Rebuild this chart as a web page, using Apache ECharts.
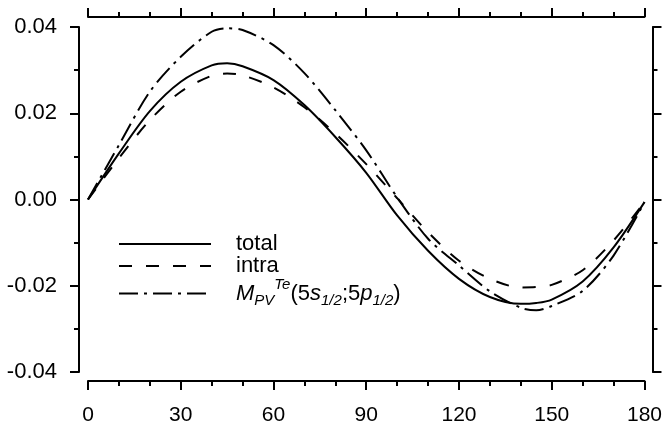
<!DOCTYPE html>
<html>
<head>
<meta charset="utf-8">
<script src="https://cdn.jsdelivr.net/npm/echarts@6/dist/echarts.min.js"></script>
<style>
  html, body { margin: 0; padding: 0; background: #fff; }
  #chart { width: 665px; height: 426px; }
</style>
</head>
<body>
<div id="chart"></div>
<script>
// angle (deg)
const angles = [0, 10, 20, 30, 40, 45, 50, 60, 70, 80, 90, 100, 110, 120, 130, 140, 145, 150, 160, 170, 180];
// curves
const totalVals = [0, 0.0107, 0.0205, 0.0273, 0.0311, 0.0316, 0.0309, 0.0277, 0.0219, 0.0145, 0.0062, -0.0037, -0.0119, -0.0184, -0.0226, -0.0242, -0.0240, -0.0232, -0.0190, -0.0111, -0.0006];
const intraVals = [0, 0.0096, 0.0184, 0.0250, 0.0287, 0.0292, 0.0288, 0.0260, 0.0214, 0.0153, 0.0082, 0.0003, -0.0076, -0.0142, -0.0184, -0.0204, -0.0203, -0.0198, -0.0164, -0.0095, -0.0006];
const mpvVals = [0, 0.0126, 0.0250, 0.0331, 0.0389, 0.0397, 0.0393, 0.0358, 0.0293, 0.0207, 0.0114, 0.0005, -0.0091, -0.0153, -0.0213, -0.0251, -0.0257, -0.0247, -0.0212, -0.0130, -0.0006];
const seriesNames = ['total', 'intra', 'mpv'];

const chart = echarts.init(document.getElementById('chart'));
const font = 'Liberation Sans, Arial, Helvetica, sans-serif';
const pairs = vals => angles.map((a, i) => [a, vals[i]]);

const axisBase = {
  type: 'value',
  axisLine: { show: true, onZero: false, lineStyle: { color: '#000', width: 2 } },
  axisTick: { show: true, inside: false, length: 9, lineStyle: { color: '#000', width: 2 } },
  minorTick: { show: true, length: 5, lineStyle: { color: '#000', width: 2 } },
  splitLine: { show: false },
  minorSplitLine: { show: false }
};

// text styles for the legend; sub/superscripts moved with padding inside a 22px line
const richStyles = {
  n: { fontSize: 22, fontFamily: font, color: '#000', lineHeight: 22 },
  it: { fontSize: 22, fontFamily: font, fontStyle: 'italic', color: '#000', lineHeight: 22 },
  sub: { fontSize: 15, fontFamily: font, fontStyle: 'italic', color: '#000', lineHeight: 8, padding: [14, 0, 0, 0] },
  sup: { fontSize: 15, fontFamily: font, fontStyle: 'italic', color: '#000', lineHeight: 4, padding: [0, 0, 18, 0] }
};

chart.setOption({
  animation: false,
  backgroundColor: '#fff',
  grid: { left: 88, right: 19, top: 27, bottom: 54, containLabel: false },
  xAxis: [
    Object.assign({}, axisBase, {
      position: 'bottom', offset: 9, min: 0, max: 180, interval: 30,
      minorTick: Object.assign({}, axisBase.minorTick, { splitNumber: 3 }),
      axisLabel: { color: '#000', fontSize: 21, fontFamily: font, margin: 24 }
    }),
    Object.assign({}, axisBase, {
      position: 'top', offset: 10, min: 0, max: 180, interval: 30,
      minorTick: Object.assign({}, axisBase.minorTick, { splitNumber: 3 }),
      axisLabel: { show: false }
    })
  ],
  yAxis: [
    Object.assign({}, axisBase, {
      position: 'left', offset: 9, min: -0.04, max: 0.04, interval: 0.02,
      minorTick: Object.assign({}, axisBase.minorTick, { splitNumber: 2 }),
      axisLabel: { color: '#000', fontSize: 22, fontFamily: font, margin: 22,
        formatter: v => v.toFixed(2) }
    }),
    Object.assign({}, axisBase, {
      position: 'right', offset: 8, min: -0.04, max: 0.04, interval: 0.02,
      minorTick: Object.assign({}, axisBase.minorTick, { splitNumber: 2 }),
      axisLabel: { show: false }
    })
  ],
  legend: {
    orient: 'vertical', left: 113, top: 228,
    itemWidth: 92, itemHeight: 14, itemGap: 0,
    itemStyle: { opacity: 0 },
    data: seriesNames,
    formatter: name => {
      if (name === 'mpv') {
        return '{it|M}{sub|PV}{sup|Te}{n|(5}{it|s}{sub|1/2}{n|;5}{it|p}{sub|1/2}{n|)}';
      }
      return '{n|' + name + '}';
    },
    textStyle: {
      color: '#000', fontFamily: font, fontSize: 22, padding: [0, 0, 0, 20],
      rich: richStyles
    }
  },
  series: [
    { name: 'total', type: 'line', data: pairs(totalVals), smooth: 0.3, symbol: 'none',
      lineStyle: { color: '#000', width: 2, type: 'solid' }, itemStyle: { color: '#000' } },
    { name: 'intra', type: 'line', data: pairs(intraVals), smooth: 0.3, symbol: 'none',
      lineStyle: { color: '#000', width: 2, type: [13, 14] }, itemStyle: { color: '#000' } },
    { name: 'mpv', type: 'line', data: pairs(mpvVals), smooth: 0.3, symbol: 'none',
      lineStyle: { color: '#000', width: 2, type: [19, 6, 3, 6] }, itemStyle: { color: '#000' } }
  ]
});
</script>
</body>
</html>
